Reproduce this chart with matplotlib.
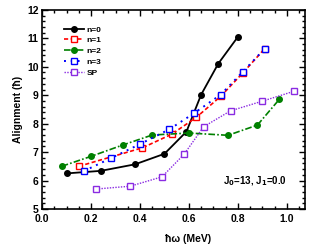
import matplotlib
matplotlib.use("Agg")
import matplotlib.pyplot as plt
from matplotlib.ticker import MultipleLocator

plt.rcParams['font.family'] = ['Liberation Sans', 'DejaVu Sans']
plt.rcParams['font.weight'] = 'bold'

x_n0 = [0.10, 0.24, 0.38, 0.50, 0.59, 0.65, 0.72, 0.80]
y_n0 = [6.25, 6.34, 6.57, 6.94, 7.72, 9.02, 10.11, 11.05]

x_n1 = [0.15, 0.41, 0.53, 0.63, 0.73, 0.82, 0.91]
y_n1 = [6.50, 7.15, 7.63, 8.22, 8.96, 9.78, 10.64]

x_n2 = [0.08, 0.20, 0.33, 0.45, 0.60, 0.76, 0.88, 0.97]
y_n2 = [6.50, 6.85, 7.25, 7.60, 7.67, 7.59, 7.95, 8.86]

x_n3 = [0.17, 0.28, 0.40, 0.52, 0.62, 0.73, 0.82, 0.91]
y_n3 = [6.33, 6.78, 7.28, 7.80, 8.36, 9.02, 9.82, 10.64]

x_sp = [0.22, 0.36, 0.49, 0.58, 0.66, 0.77, 0.90, 1.03]
y_sp = [5.70, 5.80, 6.13, 6.92, 7.89, 8.45, 8.79, 9.14]

fig = plt.figure(figsize=(3.12, 2.47), dpi=100)
ax = fig.add_axes([0.135, 0.154, 0.843, 0.806])

ms = 4
ax.plot(x_n0, y_n0, '-', color='black', lw=1.3, marker='o', ms=ms, label='n=0')
ax.plot(x_n1, y_n1, '--', color='#ff0000', lw=1.2, marker='s', ms=ms,
        mfc='white', mec='#ff0000', mew=1.0, label='n=1', dashes=(2.5, 1.5))
ax.plot(x_n2, y_n2, '-.', color='#008000', lw=1.2, marker='o', ms=ms,
        mec='#008000', mfc='#008000', label='n=2', dashes=(4, 1.3, 1, 1.3))
ax.plot(x_n3, y_n3, ':', color='#0000ff', lw=1.4, marker='s', ms=ms,
        mfc='white', mec='#0000ff', mew=1.0, label='n=3', dashes=(1, 2.5))
ax.plot(x_sp, y_sp, ':', color='#8a2be2', lw=1.0, marker='s', ms=ms,
        mfc='white', mec='#8a2be2', mew=1.0, label='SP', dashes=(1, 1))

ax.set_xlim(0.0, 1.075)
ax.set_ylim(5, 12)
ax.xaxis.set_major_locator(MultipleLocator(0.2))
ax.xaxis.set_minor_locator(MultipleLocator(0.05))
ax.yaxis.set_major_locator(MultipleLocator(1))
ax.yaxis.set_minor_locator(MultipleLocator(0.2))
ax.set_xticks([0.0, 0.2, 0.4, 0.6, 0.8, 1.0])
ax.set_xticklabels(['0.0', '0.2', '0.4', '0.6', '0.8', '1.0'])

ax.tick_params(which='both', direction='in', top=True, right=True, width=1.0,
               labelsize=7.5)
ax.tick_params(axis='x', pad=3.5)
ax.tick_params(axis='y', pad=2.5)
ax.tick_params(which='major', length=4)
ax.tick_params(which='minor', length=2)
for lab in ax.get_xticklabels() + ax.get_yticklabels():
    lab.set_fontweight('bold')
for s in ax.spines.values():
    s.set_linewidth(1.2)

ax.set_xlabel('ħω (MeV)', fontsize=7.5, fontweight='bold')
ax.xaxis.set_label_coords(0.555, -0.125)
ax.set_ylabel('Alignment (ħ)', fontsize=7.5, fontweight='bold', labelpad=3)

ax.text(0.739, 5.98, 'J$_\\mathbf{0}$=13, J$_\\mathbf{1}$=0.0', fontsize=7,
        fontweight='bold', va='center', ha='left')

leg = ax.legend(loc='upper left', bbox_to_anchor=(0.06, 0.95), frameon=False,
                fontsize=6, handlelength=2.4, handletextpad=0.3,
                labelspacing=0.35, borderpad=0.2)
for t in leg.get_texts():
    t.set_fontweight('bold')

fig.savefig('out.png', dpi=100)
